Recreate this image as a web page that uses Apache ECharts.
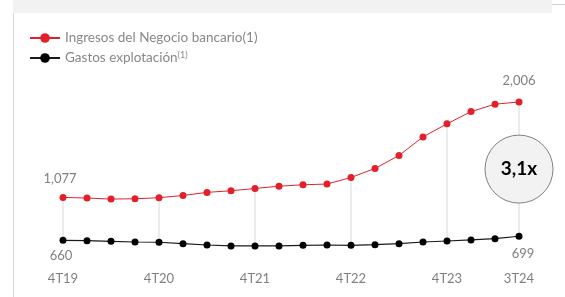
<!DOCTYPE html>
<html>
<head>
<meta charset="utf-8">
<script src="https://cdn.jsdelivr.net/npm/echarts@6/dist/echarts.min.js"></script>
<style>
  html, body { margin: 0; padding: 0; background: #fff; }
  #main { width: 565px; height: 297px; }
</style>
</head>
<body>
<div id="main"></div>
<script>
// trimestres 4T19 .. 3T24
var quarters = ['4T19', '1T20', '2T20', '3T20', '4T20', '1T21', '2T21', '3T21', '4T21', '1T22',
  '2T22', '3T22', '4T22', '1T23', '2T23', '3T23', '4T23', '1T24', '2T24', '3T24']
var ingresos = [1077, 1071, 1061, 1064, 1074, 1096, 1126, 1142, 1164, 1186,
  1200, 1207, 1271, 1359, 1485, 1666, 1793, 1912, 1984, 2006]
var gastos = [660, 656, 650, 643, 641, 627, 614, 605, 605, 605,
  611, 614, 611, 617, 627, 643, 653, 663, 676, 699]
var shownTicks = [0, 4, 8, 12, 16, 19] // ejes con etiqueta y linea vertical
var ratioLabel = '3,1x'

var grey = '#7f7f7f'
var red = '#e3202a'
var font = 'Lato, "Open Sans", sans-serif'

function fmt(v) {
  return String(v).replace(/\B(?=(\d{3})+(?!\d))/g, ',')
}

var last = quarters.length - 1
var dropData = shownTicks.map(function(i) {
  return [i, ingresos[i], gastos[i]]
})

var chart = echarts.init(document.getElementById('main'))
chart.setOption({
  animation: false,
  textStyle: { fontFamily: font },
  legend: {
    orient: 'vertical',
    left: 24,
    top: 26,
    itemWidth: 30,
    itemHeight: 12,
    itemGap: 6,
    textStyle: {
      color: '#888',
      fontSize: 13.5,
      fontFamily: font,
      rich: {
        sup: { fontSize: 9, color: '#888', verticalAlign: 'top', padding: [0, 0, 5, 0] }
      }
    },
    formatter: function(name) {
      if (name === 'Gastos explotación') return name + '{sup|(1)}'
      return name
    },
    data: ['Ingresos del Negocio bancario(1)', 'Gastos explotación']
  },
  grid: { left: 63, right: 46, top: 82, bottom: 30 },
  xAxis: {
    type: 'category',
    data: quarters,
    boundaryGap: false,
    axisLine: { show: false },
    axisTick: { show: false },
    axisLabel: {
      color: grey,
      fontSize: 13,
      margin: 5,
      interval: function(index) {
        return shownTicks.indexOf(index) >= 0
      }
    }
  },
  yAxis: {
    type: 'value',
    min: 400,
    max: 2200,
    show: false,
    splitLine: { show: false }
  },
  series: [
    {
      type: 'custom',
      z: 1,
      silent: true,
      data: dropData,
      renderItem: function(params, api) {
        var top = api.coord([api.value(0), api.value(1)])
        var bot = api.coord([api.value(0), api.value(2)])
        var children = [{
          type: 'line',
          shape: { x1: top[0], y1: top[1], x2: bot[0], y2: bot[1] },
          style: { stroke: '#d9d9d9', lineWidth: 1 }
        }]
        if (api.value(0) === last) {
          var cy = (top[1] + bot[1]) / 2
          children.push({
            type: 'circle',
            shape: { cx: top[0], cy: cy, r: 34 },
            style: { fill: '#f2f2f2', stroke: '#808080', lineWidth: 1 }
          })
          children.push({
            type: 'text',
            style: {
              x: top[0], y: cy, text: ratioLabel,
              fill: '#000', font: 'bold 19px ' + font,
              align: 'center', verticalAlign: 'middle'
            }
          })
        }
        return { type: 'group', children: children }
      }
    },
    {
      name: 'Ingresos del Negocio bancario(1)',
      type: 'line',
      z: 3,
      data: ingresos.map(function(v, i) {
        if (i === 0 || i === last) {
          return {
            value: v,
            label: {
              show: true, position: 'top', distance: i === 0 ? 9 : 11,
              offset: i === 0 ? [-3, 0] : [0, 0],
              color: grey, fontSize: 13,
              formatter: function(p) { return fmt(p.value) }
            }
          }
        }
        return v
      }),
      symbol: 'circle',
      symbolSize: 7,
      lineStyle: { color: red, width: 1 },
      itemStyle: { color: red }
    },
    {
      name: 'Gastos explotación',
      type: 'line',
      z: 3,
      data: gastos.map(function(v, i) {
        if (i === 0 || i === last) {
          return {
            value: v,
            label: {
              show: true, position: 'bottom', distance: i === 0 ? 6 : 8,
              offset: i === 0 ? [-2, 0] : [4, 0],
              color: grey, fontSize: 13,
              formatter: function(p) { return fmt(p.value) }
            }
          }
        }
        return v
      }),
      symbol: 'circle',
      symbolSize: 7,
      lineStyle: { color: '#1a1a1a', width: 1.2 },
      itemStyle: { color: '#000' }
    }
  ],
  graphic: [
    { type: 'rect', shape: { x: 13, y: 0, width: 539, height: 13 }, style: { fill: '#f2f2f2' }, silent: true },
    { type: 'line', shape: { x1: 13.5, y1: 13, x2: 13.5, y2: 297 }, style: { stroke: '#d9d9d9', lineWidth: 1 }, silent: true },
    { type: 'line', shape: { x1: 552, y1: 4.5, x2: 565, y2: 4.5 }, style: { stroke: '#d0d0d0', lineWidth: 1 }, silent: true }
  ]
})
</script>
</body>
</html>
